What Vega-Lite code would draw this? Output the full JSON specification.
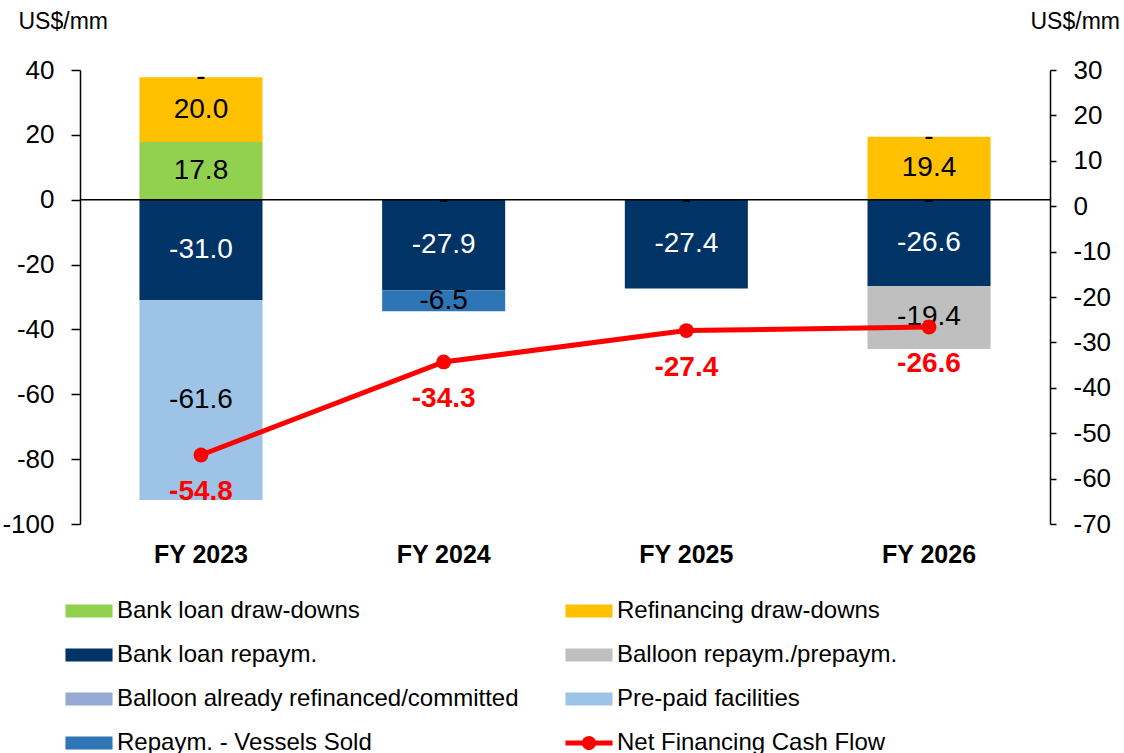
{
  "$schema": "https://vega.github.io/schema/vega-lite/v6.json",
  "width": 970,
  "height": 454,
  "autosize": "none",
  "padding": {"left": 80, "top": 70, "right": 74, "bottom": 229},
  "config": {
    "font": "Liberation Sans",
    "view": {"stroke": null},
    "locale": {"number": {"decimal": ".", "thousands": ",", "grouping": [3], "currency": ["$", ""], "minus": "-"}},
    "axis": {"grid": false, "domainColor": "#000000", "tickColor": "#000000", "labelColor": "#000000", "titleColor": "#000000", "domainWidth": 1.5, "tickWidth": 1.5}
  },
  "datasets": {
    "flows": [
      {"year": "FY 2023", "series": "Bank loan draw-downs", "order": 1, "value": 17.8},
      {"year": "FY 2023", "series": "Refinancing draw-downs", "order": 2, "value": 20.0},
      {"year": "FY 2023", "series": "Balloon repaym./prepaym.", "order": 4, "value": 0},
      {"year": "FY 2023", "series": "Bank loan repaym.", "order": 3, "value": -31.0},
      {"year": "FY 2023", "series": "Pre-paid facilities", "order": 6, "value": -61.6},
      {"year": "FY 2024", "series": "Bank loan draw-downs", "order": 1, "value": 0},
      {"year": "FY 2024", "series": "Bank loan repaym.", "order": 3, "value": -27.9},
      {"year": "FY 2024", "series": "Repaym. - Vessels Sold", "order": 7, "value": -6.5},
      {"year": "FY 2025", "series": "Bank loan draw-downs", "order": 1, "value": 0},
      {"year": "FY 2025", "series": "Bank loan repaym.", "order": 3, "value": -27.4},
      {"year": "FY 2026", "series": "Bank loan draw-downs", "order": 1, "value": 0},
      {"year": "FY 2026", "series": "Refinancing draw-downs", "order": 2, "value": 19.4},
      {"year": "FY 2026", "series": "Balloon already refinanced/committed", "order": 5, "value": 0},
      {"year": "FY 2026", "series": "Bank loan repaym.", "order": 3, "value": -26.6},
      {"year": "FY 2026", "series": "Balloon repaym./prepaym.", "order": 4, "value": -19.4}
    ],
    "net": [
      {"year": "FY 2023", "net": -54.8},
      {"year": "FY 2024", "net": -34.3},
      {"year": "FY 2025", "net": -27.4},
      {"year": "FY 2026", "net": -26.6}
    ]
  },
  "layer": [
    {
      "data": {"name": "flows"},
      "layer": [
        {
          "mark": {"type": "bar"},
          "encoding": {
            "x": {"field": "year", "type": "nominal", "sort": null, "scale": {"paddingInner": 0.493, "paddingOuter": 0.245},
              "axis": {"title": null, "domain": false, "ticks": false, "labelFontSize": 25, "labelFontWeight": "bold", "labelPadding": 18, "labelAngle": 0}},
            "y": {"field": "value", "type": "quantitative", "stack": "zero", "scale": {"domain": [-100, 40], "nice": false},
              "axis": {"values": [-100, -80, -60, -40, -20, 0, 20, 40], "title": "US$/mm", "titleAngle": 0, "titleAlign": "left", "titleBaseline": "middle", "titleX": -62, "titleY": -49, "titleFontSize": 23, "titleFontWeight": "normal", "labelFontSize": 26, "labelPadding": 17, "tickSize": 9}},
            "color": {"field": "series", "type": "nominal",
              "scale": {
                "domain": ["Bank loan draw-downs", "Bank loan repaym.", "Balloon already refinanced/committed", "Repaym. - Vessels Sold", "Refinancing draw-downs", "Balloon repaym./prepaym.", "Pre-paid facilities", "Net Financing Cash Flow"],
                "range": ["#92D050", "#003366", "#95A9D2", "#2E75B6", "#FFC000", "#BFBFBF", "#9DC3E6", "#FF0000"]
              },
              "legend": {
                "orient": "none", "legendX": -13, "legendY": 519, "columns": 2, "title": null,
                "labelFontSize": 24, "labelLimit": 700, "labelColor": "#000000",
                "symbolSize": 1936, "labelOffset": 6, "rowPadding": 10, "columnPadding": 46, "symbolStrokeWidth": 0,
                "encode": {"symbols": {"update": {"shape": {"signal": "datum.value === 'Net Financing Cash Flow' ? 'M-1.07,-0.11H1.07V0.11H-1.07Z M0.32,0A0.32,0.32 0 1,1 -0.32,0A0.32,0.32 0 1,1 0.32,0Z' : 'M-1.07,-0.3H1.07V0.3H-1.07Z'"}, "strokeWidth": {"value": 0}}}}
              }},
            "order": {"field": "order", "type": "quantitative"}
          }
        },
        {
          "transform": [
            {"stack": "value", "groupby": ["year"], "sort": [{"field": "order", "order": "ascending"}], "as": ["v0", "v1"], "offset": "zero"},
            {"fold": ["v0", "v1"], "as": ["k", "pos"]},
            {"aggregate": [{"op": "mean", "field": "pos", "as": "mid"}], "groupby": ["year", "series", "value"]}
          ],
          "mark": {"type": "text", "fontSize": 28, "baseline": "middle", "align": "center"},
          "encoding": {
            "x": {"field": "year", "type": "nominal", "sort": null},
            "y": {"field": "mid", "type": "quantitative"},
            "text": {"condition": {"test": "datum.value === 0", "value": "-"}, "field": "value", "type": "quantitative", "format": ".1f"},
            "color": {"condition": {"test": "datum.series === 'Bank loan repaym.'", "value": "#FFFFFF"}, "value": "#000000"}
          }
        },
        {
          "data": {"values": [{}]},
          "mark": {"type": "rule", "color": "#000000", "strokeWidth": 1.5},
          "encoding": {"y": {"datum": 0, "type": "quantitative"}}
        }
      ]
    },
    {
      "data": {"name": "net"},
      "layer": [
        {
          "mark": {"type": "line", "color": "#FF0000", "strokeWidth": 5},
          "encoding": {
            "x": {"field": "year", "type": "nominal", "sort": null},
            "y": {"field": "net", "type": "quantitative", "scale": {"domain": [-70, 30], "nice": false},
              "axis": {"orient": "right", "values": [-70, -60, -50, -40, -30, -20, -10, 0, 10, 20, 30], "title": "US$/mm", "titleAngle": 0, "titleAlign": "left", "titleBaseline": "middle", "titleX": -20, "titleY": -49, "titleFontSize": 23, "titleFontWeight": "normal", "labelFontSize": 26, "labelPadding": 17, "tickSize": 6}}
          }
        },
        {
          "mark": {"type": "point", "filled": true, "color": "#FF0000", "size": 220, "opacity": 1, "shape": "circle"},
          "encoding": {
            "x": {"field": "year", "type": "nominal", "sort": null},
            "y": {"field": "net", "type": "quantitative"}
          }
        },
        {
          "mark": {"type": "text", "fontSize": 28, "fontWeight": "bold", "color": "#FF0000", "dy": 37, "baseline": "middle"},
          "encoding": {
            "x": {"field": "year", "type": "nominal", "sort": null},
            "y": {"field": "net", "type": "quantitative"},
            "text": {"field": "net", "type": "quantitative", "format": ".1f"}
          }
        }
      ]
    }
  ],
  "resolve": {"scale": {"y": "independent"}}
}
